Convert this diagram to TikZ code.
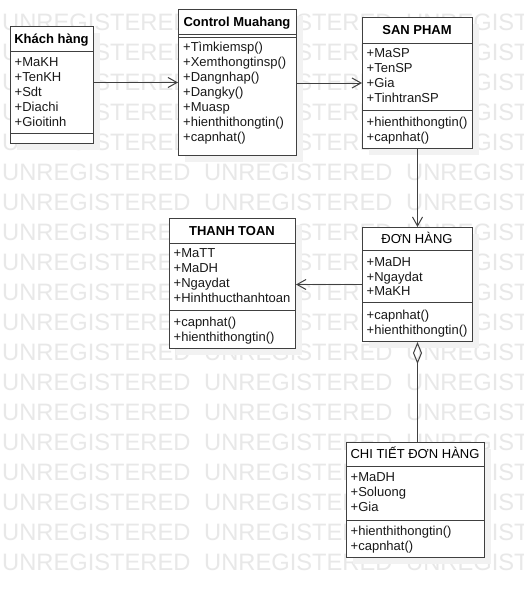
\documentclass[tikz,border=0pt]{standalone}
\usepackage{fontspec}
\setmainfont{Liberation Sans}
\usetikzlibrary{arrows.meta,shadows}
\begin{document}
\begin{tikzpicture}[x=1pt,y=-1pt,
  cls/.style={draw=black!75, line width=1pt, fill=white, rectangle, inner sep=0pt, anchor=north west,
    drop shadow={shadow xshift=6pt, shadow yshift=-6pt, fill=black!5, opacity=1, draw=none}},
  sepline/.style={draw=black!75, line width=1pt},
  ttl/.style={font=\bfseries\fontsize{13}{15}\selectfont, anchor=base, inner sep=0pt, text=black},
  ttlr/.style={font=\fontsize{13}{15}\selectfont, anchor=base, inner sep=0pt, text=black},
  itm/.style={font=\fontsize{13}{15}\selectfont, anchor=base west, inner sep=0pt, text=black!90},
  wm/.style={font=\fontsize{23.7}{24}\selectfont, text=black!9, anchor=base west, inner sep=0pt},
  conn/.style={draw=black!75, line width=1pt},
  openarrow/.style={-{Straight Barb[length=9pt,width=10pt]}},
  aggr/.style={{Diamond[open,length=22pt,width=9pt]}-}
]
\useasboundingbox (0,0) rectangle (524,597);
\fill[white] (0,0) rectangle (524,597);
% watermark
\begin{scope}
\clip (0,0) rectangle (524,597);
\foreach \r in {0,...,18} {
  \foreach \c in {0,1,2} {
    \node[wm] (wm-\r-\c) at ({2+202*\c},{21.5+30*\r+8.5}) {UNREGISTERED};
  }
}
\end{scope}

% ---------- Khach hang ----------
\node[cls, minimum width=83pt, minimum height=117pt] (kh) at (10,26) {};
\draw[sepline] (10,51) -- (93,51);
\draw[sepline] (10,133) -- (93,133);
\node[ttl] (kh-t) at (51.5,43) {Khách hàng};
\foreach \t [count=\i from 0] in {+MaKH,+TenKH,+Sdt,+Diachi,+Gioitinh}
  \node[itm] (kh-a\i) at (14.5,{66.5+14.9*\i}) {\t};

% ---------- Control Muahang ----------
\node[cls, minimum width=118pt, minimum height=146pt] (ctl) at (178,9) {};
\draw[sepline] (178,34.5) -- (296,34.5);
\draw[sepline] (178,37.8) -- (296,37.8);
\node[ttl] (ctl-t) at (237,27) {Control Muahang};
\foreach \t [count=\i from 0] in {+Tìmkiemsp(),+Xemthongtinsp(),+Dangnhap(),+Dangky(),+Muasp,+hienthithongtin(),+capnhat()}
  \node[itm] (ctl-m\i) at (183,{51.5+15*\i}) {\t};

% ---------- SAN PHAM ----------
\node[cls, minimum width=110pt, minimum height=131pt] (sp) at (362,17) {};
\draw[sepline] (362,43) -- (472,43);
\draw[sepline] (362,110) -- (472,110);
\node[ttl] (sp-t) at (417,34.7) {SAN PHAM};
\foreach \t [count=\i from 0] in {+MaSP,+TenSP,+Gia,+TinhtranSP}
  \node[itm] (sp-a\i) at (366.5,{57.5+15*\i}) {\t};
\foreach \t [count=\i from 0] in {+hienthithongtin(),+capnhat()}
  \node[itm] (sp-m\i) at (366.5,{126.5+15*\i}) {\t};

% ---------- DON HANG ----------
\node[cls, minimum width=110pt, minimum height=114pt] (dh) at (362,227) {};
\draw[sepline] (362,250) -- (472,250);
\draw[sepline] (362,302) -- (472,302);
\node[ttlr] (dh-t) at (417,243.2) {ĐƠN HÀNG};
\foreach \t [count=\i from 0] in {+MaDH,+Ngaydat,+MaKH}
  \node[itm] (dh-a\i) at (366.5,{266.5+14.6*\i}) {\t};
\foreach \t [count=\i from 0] in {+capnhat(),+hienthithongtin()}
  \node[itm] (dh-m\i) at (366.5,{319.5+14.6*\i}) {\t};

% ---------- THANH TOAN ----------
\node[cls, minimum width=126pt, minimum height=130pt] (tt) at (169,218) {};
\draw[sepline] (169,243) -- (295,243);
\draw[sepline] (169,310) -- (295,310);
\node[ttl] (tt-t) at (232,235.5) {THANH TOAN};
\foreach \t [count=\i from 0] in {+MaTT,+MaDH,+Ngaydat,+Hinhthucthanhtoan}
  \node[itm] (tt-a\i) at (173.5,{257.5+15*\i}) {\t};
\foreach \t [count=\i from 0] in {+capnhat(),+hienthithongtin()}
  \node[itm] (tt-m\i) at (173.5,{326.5+15*\i}) {\t};

% ---------- CHI TIET DON HANG ----------
\node[cls, minimum width=138pt, minimum height=115pt] (ct) at (346,442) {};
\draw[sepline] (346,466) -- (484,466);
\draw[sepline] (346,520) -- (484,520);
\node[ttlr] (ct-t) at (415,458.5) {CHI TIẾT ĐƠN HÀNG};
\foreach \t [count=\i from 0] in {+MaDH,+Soluong,+Gia}
  \node[itm] (ct-a\i) at (350.5,{481.5+15.2*\i}) {\t};
\foreach \t [count=\i from 0] in {+hienthithongtin(),+capnhat()}
  \node[itm] (ct-m\i) at (350.5,{535.5+15*\i}) {\t};

% ---------- connectors ----------
\draw[conn, openarrow] (kh.east |- ctl.west) -- (ctl.west);
\draw[conn, openarrow] (ctl.east |- sp.west) -- (sp.west);
\draw[conn, openarrow] (sp.south) -- (dh.north);
\draw[conn, openarrow] (dh.west) -- (dh.west -| tt.east);
\draw[conn, aggr] (dh.south) -- (dh.south |- ct.north);
\end{tikzpicture}
\end{document}
